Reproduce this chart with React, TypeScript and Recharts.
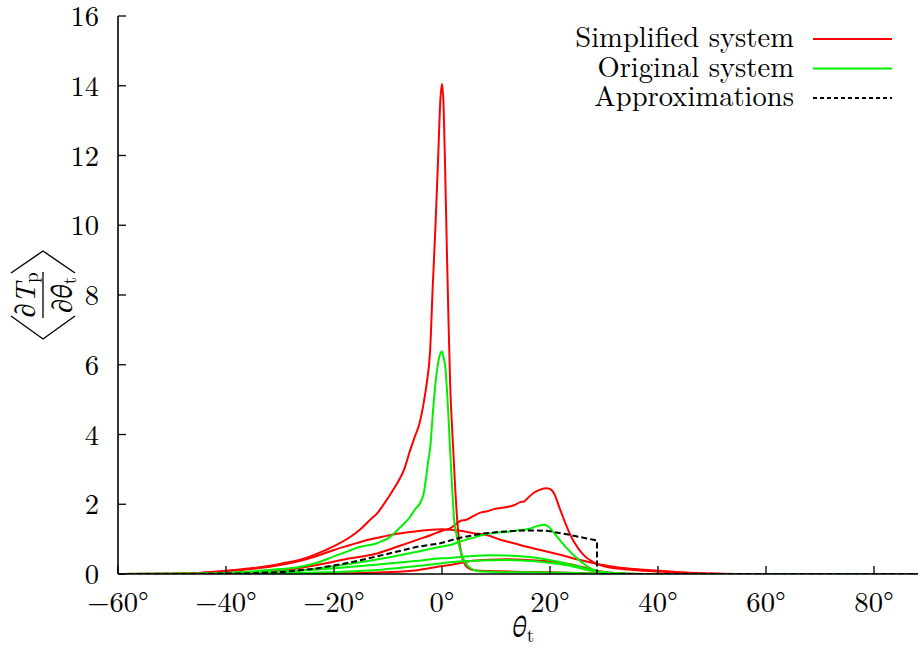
import React from 'react';
import { LineChart, Line, XAxis, YAxis, Customized } from 'recharts';

type Pt = [number, number];

// Simplified system (red)
const simplifiedPeak: Pt[] = [
  [-60, 0], [-50, 0.01], [-45, 0.03], [-40, 0.09], [-35, 0.17], [-30, 0.29], [-25, 0.47],
  [-23, 0.59], [-20, 0.8], [-17, 1.06], [-15, 1.3], [-13, 1.6], [-12, 1.74], [-11, 1.95],
  [-9.5, 2.3], [-8.3, 2.6], [-7, 3.0], [-6, 3.5], [-5, 3.95], [-4.2, 4.3], [-3.4, 4.9],
  [-2.8, 5.5], [-2.2, 6.4], [-1.7, 8.3], [-1.2, 10.0], [-0.7, 12.0], [-0.3, 13.6], [0, 14.05],
  [0.3, 13.4], [0.6, 11.5], [0.9, 9.3], [1.2, 7.3], [1.5, 5.5], [2.0, 3.8], [2.5, 2.3],
  [3.0, 1.2], [3.6, 0.55], [4.3, 0.26], [5.2, 0.14], [6.5, 0.1], [10, 0.08], [15, 0.06],
  [20, 0.05], [25, 0.03], [30, 0.01], [35, 0], [90, 0],
];
const simplifiedPlateau: Pt[] = [
  [-60, 0], [-50, 0.01], [-45, 0.03], [-40, 0.08], [-35, 0.15], [-30, 0.26], [-25, 0.43],
  [-22, 0.58], [-20, 0.69], [-17, 0.83], [-14, 0.97], [-11, 1.07], [-8, 1.16], [-5, 1.22],
  [-2, 1.27], [0, 1.28], [2, 1.26], [3.4, 1.24], [5.8, 1.17], [8.3, 1.12], [10.8, 0.98],
  [13.3, 0.88], [15.7, 0.78], [18.2, 0.69], [21.9, 0.55], [25.6, 0.4], [29.3, 0.27],
  [33, 0.18], [36.7, 0.13], [40, 0.09], [45, 0.04], [50, 0.015], [55, 0], [90, 0],
];
const simplifiedShoulder: Pt[] = [
  [-60, 0], [-45, 0.005], [-40, 0.01], [-35.5, 0.04], [-29.3, 0.11], [-23.1, 0.26],
  [-17, 0.45], [-12, 0.59], [-8.3, 0.78], [-4.6, 0.98], [-2, 1.12], [0, 1.24], [1.5, 1.31],
  [3.4, 1.52], [4.6, 1.56], [5.8, 1.66], [7.1, 1.76], [8.4, 1.8], [9.6, 1.86], [12, 1.92],
  [13.3, 1.97], [14.5, 2.06], [15.2, 2.08], [15.7, 2.15], [17, 2.33], [18.2, 2.42],
  [19.4, 2.46], [20.2, 2.42], [20.7, 2.32], [21.9, 1.84], [23.1, 1.36], [24.4, 0.93],
  [26.2, 0.55], [28.1, 0.33], [30.6, 0.2], [33, 0.15], [36.7, 0.1], [40, 0.07], [45, 0.03],
  [50, 0.01], [55, 0], [90, 0],
];
const simplifiedLow: Pt[] = [
  [-60, 0], [-30, 0.005], [-17, 0.02], [-10.8, 0.05], [-4.6, 0.11], [-0.3, 0.22], [1.5, 0.26],
  [5.8, 0.38], [9, 0.41], [12, 0.42], [15, 0.41], [18.2, 0.38], [21, 0.34], [24.4, 0.26],
  [26.5, 0.18], [28.1, 0.11], [30, 0.06], [32, 0.03], [35, 0.01], [40, 0], [90, 0],
];

// Original system (green)
const originalPeak: Pt[] = [
  [-60, 0], [-45, 0.01], [-40, 0.03], [-35.5, 0.07], [-30, 0.14], [-26.2, 0.21], [-23, 0.33],
  [-20.1, 0.5], [-17.5, 0.65], [-15.1, 0.78], [-12.5, 0.86], [-11, 0.95], [-10, 1.02],
  [-9, 1.15], [-8, 1.3], [-7, 1.45], [-6, 1.62], [-5, 1.85], [-4, 2.05], [-3.4, 2.3],
  [-3, 2.7], [-2.5, 3.3], [-2.2, 3.6], [-1.7, 4.6], [-1.2, 5.48], [-0.4, 6.28], [0, 6.38],
  [0.3, 6.2], [0.6, 5.95], [1.2, 4.5], [1.5, 3.56], [1.9, 2.4], [2.2, 1.64], [2.8, 1.05],
  [3.4, 0.69], [4.0, 0.42], [4.6, 0.26], [5.8, 0.12], [7, 0.08], [10, 0.06], [15, 0.05],
  [20, 0.04], [25, 0.03], [28, 0.01], [30, 0], [90, 0],
];
const originalShoulder: Pt[] = [
  [-60, 0], [-45, 0.005], [-35.5, 0.02], [-29.3, 0.06], [-23.1, 0.16], [-17, 0.29],
  [-10.8, 0.45], [-4.6, 0.64], [-0.3, 0.78], [1.5, 0.83], [3.4, 0.93], [6, 1.05], [8.3, 1.15],
  [10, 1.18], [12, 1.21], [14.5, 1.26], [16, 1.29], [17, 1.34], [18, 1.39], [18.8, 1.41],
  [19.5, 1.38], [20, 1.31], [21.3, 1.07], [23.1, 0.74], [25, 0.45], [26.8, 0.23],
  [28.7, 0.08], [30.6, 0.03], [33, 0.01], [36, 0], [90, 0],
];
const originalMid: Pt[] = [
  [-60, 0], [-45, 0.005], [-35.5, 0.04], [-23.1, 0.13], [-10.8, 0.29], [-5, 0.37], [0, 0.45],
  [1.5, 0.46], [5, 0.51], [8.9, 0.54], [12, 0.53], [15.1, 0.5], [18, 0.45], [21.3, 0.36],
  [23.5, 0.28], [25.6, 0.2], [27.5, 0.12], [28.7, 0.08], [31.8, 0.03], [35, 0.01], [40, 0],
  [90, 0],
];
const originalLow: Pt[] = [
  [-60, 0], [-40, 0.003], [-23.1, 0.04], [-10.8, 0.13], [-5, 0.22], [0, 0.31], [1.5, 0.34],
  [5.8, 0.38], [12, 0.4], [15, 0.39], [18.2, 0.35], [21, 0.3], [24.4, 0.21], [26.5, 0.13],
  [28.1, 0.08], [30, 0.04], [33, 0.01], [36, 0], [90, 0],
];

// Approximations (black dashed)
const approximation: Pt[] = [
  [-60, 0], [-45, 0.003], [-35.5, 0.02], [-29.3, 0.06], [-23.1, 0.16], [-17, 0.33],
  [-10.8, 0.55], [-4.6, 0.78], [-0.3, 0.88], [1.5, 0.96], [3.4, 1.04], [7.1, 1.15],
  [10.8, 1.21], [15.1, 1.25], [19.4, 1.24], [23.1, 1.14], [26.8, 1.02], [28.7, 0.96],
  [28.7, 0], [90, 0],
];

const xTicks = [-60, -40, -20, 0, 20, 40, 60, 80];
const yTicks = [0, 2, 4, 6, 8, 10, 12, 14, 16];

const RED = '#ff0000';
const GREEN = '#00f000';
const BLACK = '#000000';
const FONT = '"Latin Modern Roman", "STIX Two Text", "Liberation Serif", serif';
const FS = 28.6;

const legendItems = [
  { label: 'Simplified system', color: RED, dash: undefined as string | undefined },
  { label: 'Original system', color: GREEN, dash: undefined as string | undefined },
  { label: 'Approximations', color: BLACK, dash: '4 3' },
];

const series = [
  { id: 'r-peak', pts: simplifiedPeak, color: RED, dash: undefined as string | undefined },
  { id: 'r-plateau', pts: simplifiedPlateau, color: RED, dash: undefined },
  { id: 'r-shoulder', pts: simplifiedShoulder, color: RED, dash: undefined },
  { id: 'r-low', pts: simplifiedLow, color: RED, dash: undefined },
  { id: 'g-peak', pts: originalPeak, color: GREEN, dash: undefined },
  { id: 'g-shoulder', pts: originalShoulder, color: GREEN, dash: undefined },
  { id: 'g-mid', pts: originalMid, color: GREEN, dash: undefined },
  { id: 'g-low', pts: originalLow, color: GREEN, dash: undefined },
  { id: 'approx', pts: approximation, color: BLACK, dash: '6 3' },
];

const toRows = (pts: Pt[]) => pts.map(([x, y]) => ({ x, y }));

const fmtDeg = (v: number) => `${v < 0 ? '\u2212' : ''}${Math.abs(v)}\u00b0`;

const YLabel = (props: any) => {
  const vb = props.viewBox || { x: 0, y: 16, width: 118, height: 558 };
  const cx = 43;
  const cy = vb.y + vb.height / 2;
  return (
    <g transform={`translate(${cx},${cy}) rotate(-90)`} fill="#000">
      <text x={0} y={-8} textAnchor="middle" fontSize={FS} style={{ fontFamily: FONT }}>
        <tspan fontStyle="italic">∂T</tspan>
        <tspan fontSize={19} dy={3}>p</tspan>
      </text>
      <line x1={-23} x2={23} y1={0} y2={0} stroke="#000" strokeWidth={1.3} />
      <text x={0} y={29} textAnchor="middle" fontSize={FS} style={{ fontFamily: FONT }}>
        <tspan fontStyle="italic">∂θ</tspan>
        <tspan fontSize={19} dy={4}>t</tspan>
      </text>
      <polyline points="-21,-32 -44,0 -21,32" fill="none" stroke="#000" strokeWidth={1.4} />
      <polyline points="22,-32 44,0 22,32" fill="none" stroke="#000" strokeWidth={1.4} />
    </g>
  );
};

const XLabel = (props: any) => {
  const vb = props.viewBox || { x: 118, y: 574, width: 810, height: 74 };
  const cx = vb.x + vb.width / 2;
  const base = vb.y + 63;
  return (
    <text x={cx} y={base} textAnchor="middle" fontSize={FS} fill="#000" style={{ fontFamily: FONT }}>
      <tspan fontStyle="italic">θ</tspan>
      <tspan fontSize={19} dy={5}>t</tspan>
    </text>
  );
};

const LegendBlock = () => (
  <g fontSize={FS} fill="#000">
    {legendItems.map((item, i) => {
      const ly = 39 + i * 29.5;
      return (
        <g key={item.label}>
          <text x={794} y={ly + 8} textAnchor="end" style={{ fontFamily: FONT }}>
            {item.label}
          </text>
          <line
            x1={813}
            x2={892}
            y1={ly}
            y2={ly}
            stroke={item.color}
            strokeWidth={2}
            strokeDasharray={item.dash}
          />
        </g>
      );
    })}
  </g>
);

export default function App() {
  const tickStyle = { fontFamily: FONT, fontSize: FS, fill: '#000' };
  return (
    <div
      style={{
        position: 'absolute',
        left: 0,
        top: 0,
        width: 918,
        height: 648,
        overflow: 'hidden',
        background: '#fff',
      }}
    >
      <LineChart width={940} height={648} margin={{ top: 16, right: 12, bottom: 0, left: 0 }}>
        <XAxis
          xAxisId="top"
          orientation="top"
          type="number"
          dataKey="x"
          domain={[-60, 90]}
          ticks={xTicks}
          interval={0}
          height={0}
          tick={false}
          tickSize={-8}
          axisLine={{ stroke: '#000', strokeWidth: 1.6 }}
          tickLine={{ stroke: '#000', strokeWidth: 1.3 }}
        />
        <XAxis
          type="number"
          dataKey="x"
          domain={[-60, 90]}
          ticks={xTicks}
          interval={0}
          height={74}
          tickSize={-8}
          tickMargin={26}
          tickFormatter={fmtDeg}
          tick={tickStyle}
          axisLine={{ stroke: '#000', strokeWidth: 1.6 }}
          tickLine={{ stroke: '#000', strokeWidth: 1.3 }}
          label={{ content: XLabel }}
        />
        <YAxis
          type="number"
          dataKey="y"
          domain={[0, 16]}
          ticks={yTicks}
          interval={0}
          width={118}
          tickSize={-8}
          tickMargin={27}
          tick={tickStyle}
          axisLine={{ stroke: '#000', strokeWidth: 1.6 }}
          tickLine={{ stroke: '#000', strokeWidth: 1.3 }}
          label={{ content: YLabel }}
          allowDataOverflow
        />
        {series.map((s) => (
          <Line
            key={s.id}
            data={toRows(s.pts)}
            dataKey="y"
            type={s.dash ? 'linear' : 'monotone'}
            stroke={s.color}
            strokeWidth={2}
            strokeDasharray={s.dash}
            dot={false}
            activeDot={false}
            legendType="none"
            isAnimationActive={false}
          />
        ))}
        <Customized component={<LegendBlock />} />
      </LineChart>
    </div>
  );
}
